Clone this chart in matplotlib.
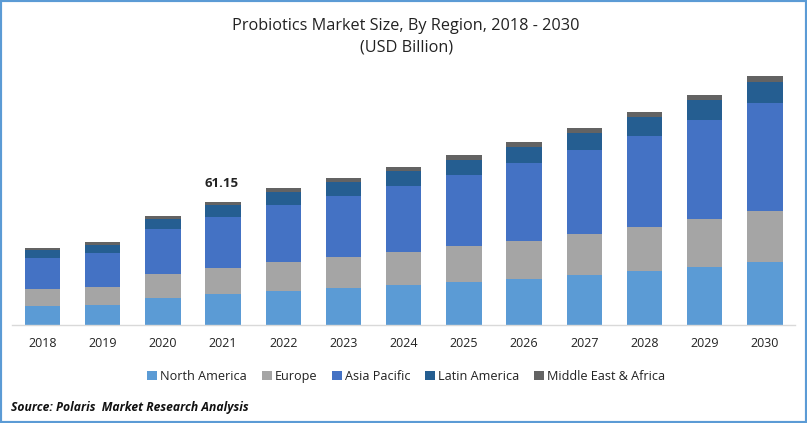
import matplotlib
matplotlib.use("Agg")
import matplotlib.pyplot as plt
from matplotlib.patches import Rectangle

plt.rcParams["font.family"] = "Open Sans"

years = [str(y) for y in range(2018, 2031)]
north_america = [9.45, 9.94, 13.42, 15.41, 16.90, 18.40, 19.89, 21.38, 22.87, 24.86, 26.85, 28.84, 31.32]
europe = [8.45, 8.95, 11.93, 12.93, 14.42, 15.41, 16.41, 17.90, 18.89, 20.39, 21.88, 23.87, 25.36]
asia_pacific = [15.41, 16.90, 22.37, 25.36, 28.34, 30.33, 32.81, 35.30, 38.78, 41.76, 45.25, 49.22, 53.70]
latin_america = [3.98, 3.98, 4.97, 5.97, 6.46, 6.96, 7.46, 7.46, 7.96, 8.45, 9.45, 9.94, 10.44]
middle_east = [0.99, 1.49, 1.49, 1.48, 1.99, 1.99, 1.99, 2.49, 2.49, 2.49, 2.49, 2.49, 2.98]

series = [
    ("North America", north_america, "#5B9BD5"),
    ("Europe", europe, "#A5A5A5"),
    ("Asia Pacific", asia_pacific, "#4472C4"),
    ("Latin America", latin_america, "#255E91"),
    ("Middle East & Africa", middle_east, "#636363"),
]

W, H = 807, 423
fig = plt.figure(figsize=(W / 100, H / 100), dpi=100)
ax = fig.add_axes([12 / W, (H - 325) / H, 783 / W, 265 / H])

bottom = [0] * len(years)
for name, values, color in series:
    ax.bar(range(len(years)), values, 0.59, bottom=bottom, color=color, label=name)
    bottom = [b + v for b, v in zip(bottom, values)]

ax.set_xlim(-0.507, 12.5)
ax.set_ylim(0, 131.8)
ax.set_xticks(range(len(years)), years)
ax.tick_params(axis="x", length=0, pad=8.5, labelsize=9, labelcolor="#222222")
ax.yaxis.set_visible(False)
for side in ["top", "left", "right"]:
    ax.spines[side].set_visible(False)
ax.spines["bottom"].set_color("#D9D9D9")
ax.spines["bottom"].set_linewidth(1)

# etiqueta de 2021
ax.text(2.97, bottom[3] + 6, "61.15", ha="center", va="bottom", fontsize=9.5, fontweight="bold", color="#222222")

fig.text(406 / W, 1 - 26 / H, "Probiotics Market Size, By Region, 2018 - 2030", ha="center", va="center", fontsize=11.7, color="#222222")
fig.text(407 / W, 1 - 47 / H, "(USD Billion)", ha="center", va="center", fontsize=11.7, color="#222222")

fig.legend(
    loc="center", bbox_to_anchor=(406 / W, 1 - 376.5 / H), ncol=5, frameon=False,
    fontsize=9.1, handlelength=0.8, handleheight=0.8, handletextpad=0.2, columnspacing=1.19,
    labelcolor="#222222",
)

fig.text(11 / W, 1 - 407.5 / H, "Source: Polaris  Market Research Analysis", ha="left", va="center",
         fontsize=8.7, fontweight="bold", fontstyle="italic", color="#111111")

# borde azul
fig.add_artist(Rectangle((0, 0), 1, 1, transform=fig.transFigure, fill=False, edgecolor="#5B9BD5", linewidth=3))

fig.savefig("out.png", dpi=100)
